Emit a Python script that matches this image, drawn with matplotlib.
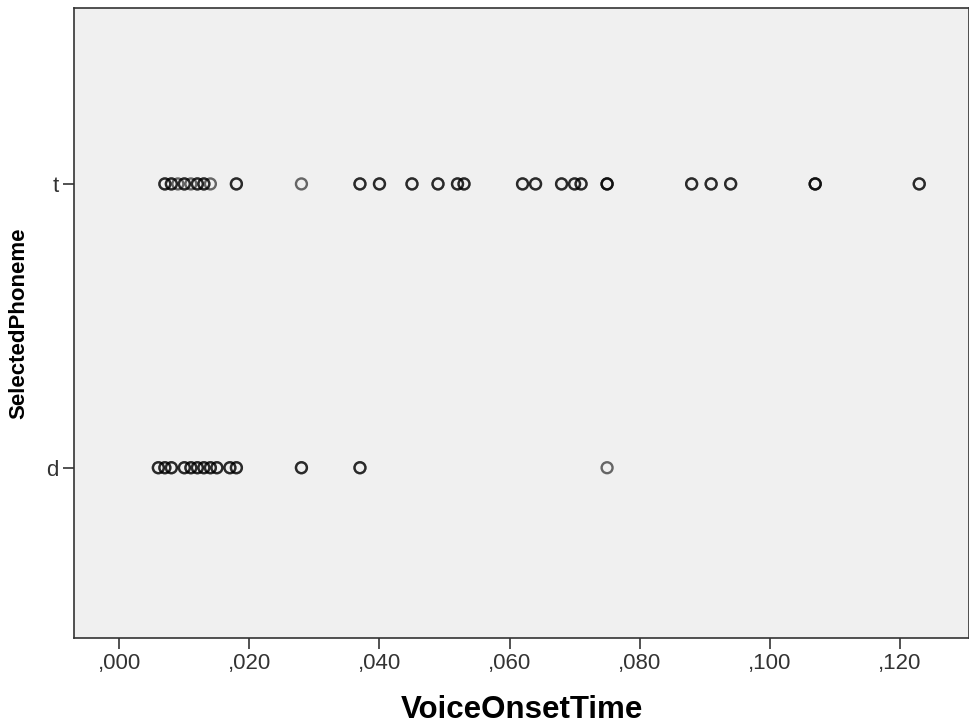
import numpy as np
import matplotlib
matplotlib.use("Agg")
import matplotlib.pyplot as plt
from matplotlib.ticker import FuncFormatter, MultipleLocator

plt.rcParams['font.family'] = ['Liberation Sans', 'DejaVu Sans']

# VOT values (repeated values = darker, overlapping circles)
vot_t = [0.007, 0.007, 0.008, 0.008, 0.009, 0.010, 0.010, 0.011, 0.012, 0.012,
         0.013, 0.013, 0.014, 0.018, 0.018, 0.028,
         0.037, 0.037, 0.040, 0.040, 0.045, 0.045, 0.049, 0.049,
         0.052, 0.052, 0.053, 0.053, 0.062, 0.062, 0.064, 0.064,
         0.068, 0.068, 0.070, 0.070, 0.071, 0.071, 0.075, 0.075, 0.075,
         0.088, 0.088, 0.091, 0.091, 0.094, 0.094, 0.107, 0.107, 0.107,
         0.123, 0.123]
vot_d = [0.006, 0.006, 0.007, 0.007, 0.008, 0.008, 0.010, 0.010, 0.011, 0.011,
         0.012, 0.012, 0.013, 0.013, 0.014, 0.014, 0.015, 0.015,
         0.017, 0.017, 0.018, 0.018, 0.028, 0.028, 0.037, 0.037, 0.075]
phonemes = ['d', 't']

fig = plt.figure(figsize=(9.7, 7.25), dpi=100)
ax = fig.add_axes([0.0763, 0.12, 0.923, 0.869])
ax.set_facecolor('#f0f0f0')

for i, vals in enumerate([vot_d, vot_t]):
    ax.scatter(vals, np.full(len(vals), i), s=62, facecolors='none',
               edgecolors='black', linewidths=1.7, alpha=0.58, zorder=3)

ax.set_xlim(-0.00697, 0.1307)
ax.set_ylim(-0.6, 1.62)
ax.xaxis.set_major_locator(MultipleLocator(0.02))
ax.xaxis.set_major_formatter(FuncFormatter(lambda v, _: ("%.3f" % v).lstrip("0").replace(".", ",")))
ax.set_yticks([0, 1])
ax.set_yticklabels(phonemes)

for s in ['top', 'right', 'bottom', 'left']:
    ax.spines[s].set_color('#333333')
    ax.spines[s].set_linewidth(1.2)
ax.tick_params(axis='both', direction='out', length=8, width=1.2, color='#333333',
               labelsize=16, labelcolor='#333333', pad=3)

ax.set_xlabel('VoiceOnsetTime', fontsize=22.5, fontweight='bold', labelpad=15)
ax.set_ylabel('SelectedPhoneme', fontsize=16, fontweight='bold', labelpad=12)

fig.savefig('out.png', dpi=100, facecolor='white')
